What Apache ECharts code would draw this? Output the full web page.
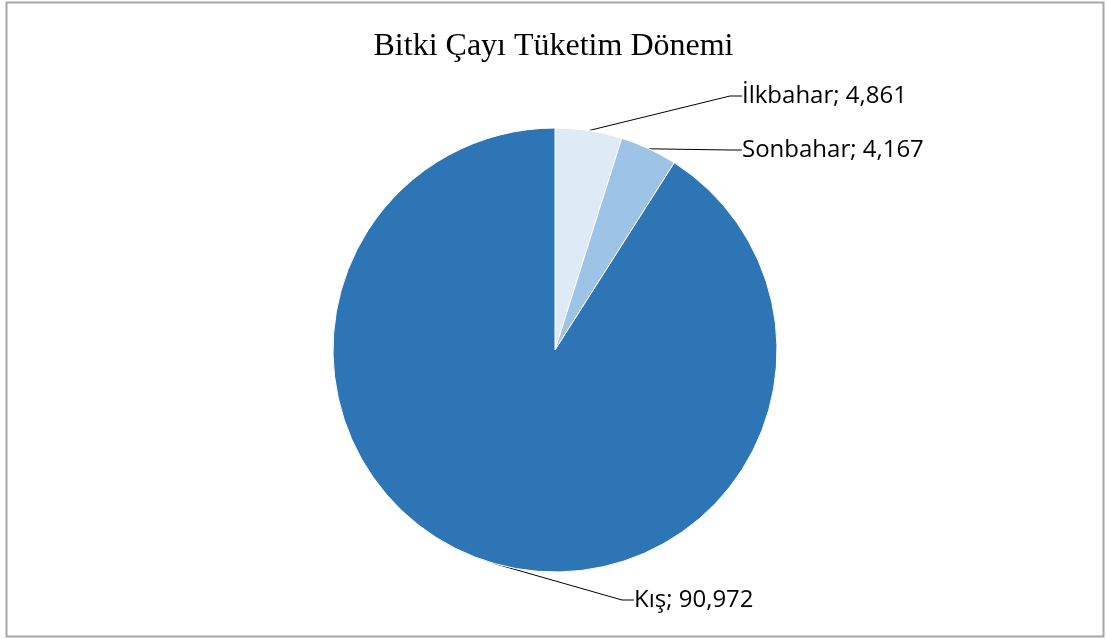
<!DOCTYPE html>
<html>
<head>
<meta charset="utf-8">
<script src="https://cdn.jsdelivr.net/npm/echarts@6/dist/echarts.min.js"></script>
<style>
  html, body { margin: 0; padding: 0; background: #fff; }
  #chart { width: 1107px; height: 639px; }
</style>
</head>
<body>
<div id="chart"></div>
<script>
const categories = ['İlkbahar', 'Sonbahar', 'Kış']
const values = [4.861, 4.167, 90.972]
const colors = ['#deebf7', '#9dc3e6', '#2e75b6']

// where each label sits (left edge, vertical middle)
const labelPos = [
  { x: 742, y: 96 },
  { x: 742, y: 150 },
  { x: 634, y: 600 },
]

const chart = echarts.init(document.getElementById('chart'), null, { renderer: 'canvas' })

chart.setOption({
  animation: false,
  title: {
    text: 'Bitki Çayı Tüketim Dönemi',
    left: 'center',
    top: 26,
    textStyle: {
      fontFamily: 'Liberation Serif',
      fontWeight: 'normal',
      fontSize: 32,
      color: '#000',
    },
  },
  graphic: [{
    type: 'rect',
    shape: { x: 6.5, y: 2.5, width: 1097, height: 634 },
    style: { fill: 'none', stroke: '#a6a6a6', lineWidth: 2 },
    silent: true,
  }],
  series: [{
    type: 'pie',
    center: [555, 350],
    radius: 222,
    startAngle: 90,
    clockwise: true,
    data: categories.map((name, i) => ({
      name,
      value: values[i],
      itemStyle: { color: colors[i] },
    })),
    itemStyle: { borderColor: '#ffffff', borderWidth: 1 },
    label: {
      show: true,
      position: 'outside',
      formatter: (p) => `${p.name}; ${p.value.toFixed(3).replace('.', ',')}`,
      fontFamily: 'Open Sans',
      fontSize: 24,
      color: '#000',
    },
    labelLine: {
      show: true,
      length: 10,
      length2: 12,
      lineStyle: { color: '#000', width: 1 },
    },
    labelLayout: (params) => {
      const pos = labelPos[params.dataIndex]
      return { x: pos.x, y: pos.y, align: 'left', verticalAlign: 'middle' }
    },
  }],
})
</script>
</body>
</html>
